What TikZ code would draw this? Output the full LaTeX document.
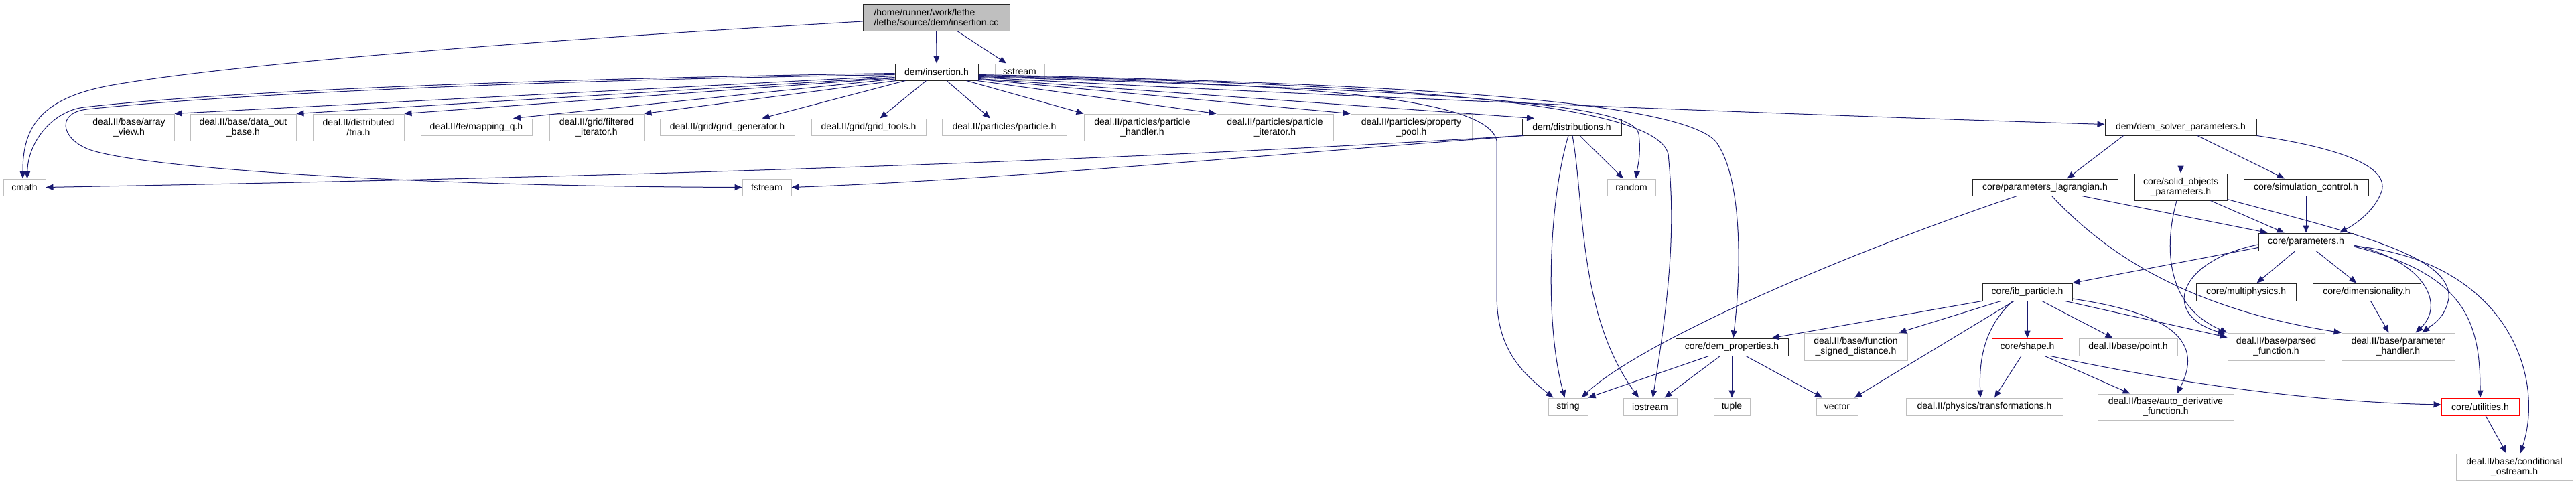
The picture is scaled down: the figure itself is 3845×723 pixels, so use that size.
\documentclass[tikz,border=0pt]{standalone}
\usepackage{fontspec}
\setmainfont{Liberation Sans}
\usetikzlibrary{arrows.meta,calc}
\definecolor{edgec}{RGB}{25,25,112}
\definecolor{greyb}{RGB}{191,191,191}
\definecolor{topfill}{RGB}{191,191,191}
\tikzset{
  nbase/.style={rectangle, inner sep=0pt, fill=white, align=center, font=\fontsize{14}{15}\selectfont, line width=1pt},
  ext/.style={nbase, draw=greyb},
  doc/.style={nbase, draw=black!85},
  trunc/.style={nbase, draw=red},
  root/.style={nbase, draw=black!85, fill=topfill, align=left},
  e/.style={draw=edgec, line width=1pt, -{Triangle[length=11pt,width=9pt]}},
}
\begin{document}
\begin{tikzpicture}[x=1pt,y=-1pt]
\useasboundingbox (0,0) rectangle (3845,723);
% rank 0-1
\node[root, minimum width=219pt, minimum height=40pt] (top) at (1397.5,26) {/home/runner/work/lethe\\/lethe/source/dem/insertion.cc};
\node[doc, minimum width=124pt, minimum height=25pt] (ins) at (1398,107.5) {dem/insertion.h};
\node[ext, minimum width=74pt, minimum height=25pt] (sstream) at (1522,107.5) {sstream};
% rank 2
\node[ext, minimum width=135pt, minimum height=40pt] (arrv) at (192.5,190) {deal.II/base/array\\\_view.h};
\node[ext, minimum width=158pt, minimum height=40pt] (dob) at (363,190) {deal.II/base/data\_out\\\_base.h};
\node[ext, minimum width=136pt, minimum height=40pt] (tria) at (535,190) {deal.II/distributed\\/tria.h};
\node[ext, minimum width=166pt, minimum height=25pt] (mapq) at (711,189.5) {deal.II/fe/mapping\_q.h};
\node[ext, minimum width=141pt, minimum height=40pt] (filt) at (890.5,190) {deal.II/grid/filtered\\\_iterator.h};
\node[ext, minimum width=201pt, minimum height=25pt] (gridgen) at (1085.5,189.5) {deal.II/grid/grid\_generator.h};
\node[ext, minimum width=171pt, minimum height=25pt] (gridtools) at (1296.5,189.5) {deal.II/grid/grid\_tools.h};
\node[ext, minimum width=186pt, minimum height=25pt] (particle) at (1499,189.5) {deal.II/particles/particle.h};
\node[ext, minimum width=174pt, minimum height=40pt] (phandler) at (1705,190) {deal.II/particles/particle\\\_handler.h};
\node[ext, minimum width=174pt, minimum height=40pt] (piter) at (1903,190) {deal.II/particles/particle\\\_iterator.h};
\node[ext, minimum width=181pt, minimum height=40pt] (ppool) at (2106.5,190) {deal.II/particles/property\\\_pool.h};
\node[doc, minimum width=148pt, minimum height=25pt] (distr) at (2346,189.5) {dem/distributions.h};
\node[doc, minimum width=226pt, minimum height=25pt] (dsp) at (3255,189.5) {dem/dem\_solver\_parameters.h};
% rank 3
\node[ext, minimum width=63pt, minimum height=25pt] (cmath) at (36.5,279.5) {cmath};
\node[ext, minimum width=73pt, minimum height=25pt] (fstream) at (1144.5,279.5) {fstream};
\node[ext, minimum width=72pt, minimum height=25pt] (random) at (2435,279.5) {random};
\node[doc, minimum width=217pt, minimum height=25pt] (lagr) at (3052.5,279.5) {core/parameters\_lagrangian.h};
\node[doc, minimum width=138pt, minimum height=40pt] (solid) at (3255,279) {core/solid\_objects\\\_parameters.h};
\node[doc, minimum width=186pt, minimum height=25pt] (simctrl) at (3442,279.5) {core/simulation\_control.h};
% rank 4
\node[doc, minimum width=142pt, minimum height=26pt] (params) at (3442,361) {core/parameters.h};
% rank 5
\node[doc, minimum width=134pt, minimum height=26pt] (ibp) at (3026,436) {core/ib\_particle.h};
\node[doc, minimum width=149pt, minimum height=26pt] (multi) at (3352.5,436) {core/multiphysics.h};
\node[doc, minimum width=161pt, minimum height=26pt] (dimen) at (3532.5,436) {core/dimensionality.h};
% rank 6
\node[doc, minimum width=168pt, minimum height=26pt] (demprop) at (2585,518) {core/dem\_properties.h};
\node[ext, minimum width=154pt, minimum height=41pt] (fsd) at (2770,517.5) {deal.II/base/function\\\_signed\_distance.h};
\node[trunc, minimum width=106pt, minimum height=26pt] (shape) at (3026,518) {core/shape.h};
\node[ext, minimum width=147pt, minimum height=26pt] (point) at (3176.5,518) {deal.II/base/point.h};
\node[ext, minimum width=145pt, minimum height=41pt] (parsed) at (3397.5,517.5) {deal.II/base/parsed\\\_function.h};
\node[ext, minimum width=169pt, minimum height=41pt] (phand) at (3579.5,517.5) {deal.II/base/parameter\\\_handler.h};
% rank 7
\node[ext, minimum width=59pt, minimum height=26pt] (string) at (2340.5,607) {string};
\node[ext, minimum width=80pt, minimum height=26pt] (iostream) at (2463,607) {iostream};
\node[ext, minimum width=54pt, minimum height=26pt] (tuple) at (2585,607) {tuple};
\node[ext, minimum width=62pt, minimum height=26pt] (vector) at (2742,607) {vector};
\node[ext, minimum width=234pt, minimum height=26pt] (transf) at (2962,607) {deal.II/physics/transformations.h};
\node[ext, minimum width=203pt, minimum height=39pt] (autod) at (3232.5,607.5) {deal.II/base/auto\_derivative\\\_function.h};
\node[trunc, minimum width=116pt, minimum height=26pt] (util) at (3702,607) {core/utilities.h};
% rank 8
\node[ext, minimum width=174pt, minimum height=40pt] (cond) at (3753,697) {deal.II/base/conditional\\\_ostream.h};

% ---- edges from insertion.cc
\draw[e] (top) -- (ins);
\draw[e] (top) -- (sstream);
\draw[e] ($(top.west)+(0,6)$) .. controls (800,60) and (350,95) .. (168,127) .. controls (60,146) and (34,190) .. ($(cmath.north)+(-2.5,0)$);

% ---- edges from insertion.h
\draw[e] ($(ins.west)+(0,2)$) .. controls (800,118) and (350,135) .. (126,160) .. controls (80,165) and (42,210) .. ($(cmath.north)+(4,0)$);
\draw[e] ($(ins.west)+(0,4)$) .. controls (800,120) and (350,140) .. (130,163) .. controls (85,168) and (90,205) .. (130,222) .. controls (200,250) and (600,278) .. (fstream.west);
\draw[e] ($(ins.west)+(0,6)$) -- (arrv.north east);
\draw[e] ($(ins.west)+(0,8)$) -- (dob.north east);
\draw[e] ($(ins.west)+(0,9)$) -- (tria.north east);
\draw[e] ($(ins.west)+(0,10.5)$) -- ($(mapq.north)+(55,0)$);
\draw[e] ($(ins.south west)+(2,0)$) -- (filt.north east);
\draw[e] ($(ins.south west)+(16,0)$) -- ($(gridgen.north)+(52,0)$);
\draw[e] ($(ins.south west)+(47,0)$) -- ($(gridtools.north)+(17,0)$);
\draw[e] ($(ins.south)+(15,0)$) -- ($(particle.north)+(-21,0)$);
\draw[e] ($(ins.south east)+(-18,0)$) -- (phandler.north west);
\draw[e] ($(ins.south east)+(-2,0)$) -- (piter.north west);
\draw[e] ($(ins.east)+(0,11)$) -- (ppool.north west);
\draw[e] ($(ins.east)+(0,10)$) -- ($(distr.north)+(-56,0)$);
\draw[e] ($(ins.east)+(0,8)$) .. controls (2000,145) and (2700,172) .. ($(dsp.west)+(0,-4)$);
\draw[e] ($(ins.east)+(0,7)$) .. controls (2100,135) and (2440,150) .. (2446,200) .. controls (2450,230) and (2444,250) .. ($(random.north)+(7,0)$);
\draw[e] ($(ins.east)+(0,6)$) .. controls (1900,125) and (2220,140) .. (2234,210) -- (2234,440) .. controls (2234,520) and (2270,555) .. ($(string.north west)+(8,0)$);
\draw[e] ($(ins.east)+(0,5)$) .. controls (2000,125) and (2470,145) .. (2490,230) .. controls (2500,330) and (2495,420) .. ($(iostream.north)+(4,0)$);
\draw[e] ($(ins.east)+(0,4)$) .. controls (2100,125) and (2500,150) .. (2560,210) .. controls (2600,260) and (2600,400) .. ($(demprop.north)+(2,0)$);

% ---- edges from dem/distributions.h
\draw[e] (distr.south west) .. controls (1500,250) and (700,268) .. (cmath.east);
\draw[e] ($(distr.south west)+(3,0)$) .. controls (1900,230) and (1500,268) .. (fstream.east);
\draw[e] ($(distr.south)+(12,0)$) -- ($(random.north)+(-12,0)$);
\draw[e] ($(distr.south)+(-5,0)$) .. controls (2312,300) and (2305,480) .. ($(string.north)+(-5,0)$);
\draw[e] ($(distr.south)+(1,0)$) .. controls (2365,300) and (2355,470) .. ($(iostream.north)+(-17,0)$);

% ---- edges from dem/dem_solver_parameters.h
\draw[e] ($(dsp.south west)+(28,0)$) -- ($(lagr.north)+(33,0)$);
\draw[e] (dsp.south) -- (solid.north);
\draw[e] ($(dsp.south)+(25,0)$) -- ($(simctrl.north)+(-32,0)$);
\draw[e] (dsp.south east) .. controls (3500,222) and (3565,250) .. (3555,285) .. controls (3545,315) and (3515,335) .. ($(params.north)+(50,0)$);

% ---- edges from core/parameters_lagrangian.h
\draw[e] ($(lagr.south)+(-42,0)$) .. controls (2750,380) and (2450,510) .. ($(string.north east)+(-10,0)$);
\draw[e] ($(lagr.south east)+(-54,0)$) -- ($(params.north west)+(14,0)$);
\draw[e] ($(lagr.south)+(10,0)$) .. controls (3140,375) and (3260,460) .. (phand.north west);

% ---- edges from core/solid_objects_parameters.h
\draw[e] ($(solid.south east)+(-25,0)$) -- ($(params.north west)+(39,0)$);
\draw[e] ($(solid.south)+(-6,0)$) .. controls (3232,360) and (3228,455) .. (parsed.north west);
\draw[e] ($(solid.south east)+(0,-2)$) .. controls (3500,345) and (3660,380) .. (3655,445) .. controls (3650,475) and (3630,485) .. ($(phand.north east)+(-49,0)$);

% ---- edge from core/simulation_control.h
\draw[e] (simctrl) -- (params);

% ---- edges from core/parameters.h
\draw[e] ($(params.south west)+(0,-5)$) -- (ibp.north east);
\draw[e] ($(params.south)+(-16,0)$) -- ($(multi.north)+(16,0)$);
\draw[e] ($(params.south)+(15,0)$) -- ($(dimen.north)+(-15,0)$);
\draw[e] ($(params.west)+(0,4)$) .. controls (3250,390) and (3225,470) .. ($(parsed.north west)+(-3,2)$);
\draw[e] ($(params.east)+(0,5)$) .. controls (3620,390) and (3650,455) .. ($(phand.north)+(26,0)$);
\draw[e] ($(params.east)+(0,7)$) .. controls (3680,410) and (3702,480) .. (util.north);
\draw[e] ($(params.east)+(0,6)$) .. controls (3740,390) and (3800,560) .. ($(cond.north)+(9,0)$);

% ---- edge from core/dimensionality.h
\draw[e] ($(dimen.south)+(6,0)$) -- ($(phand.north)+(-14,0)$);

% ---- edges from core/ib_particle.h
\draw[e] (ibp.south west) -- ($(demprop.north east)+(-25,0)$);
\draw[e] ($(ibp.south west)+(28,0)$) -- ($(fsd.north east)+(-13,0)$);
\draw[e] ($(ibp.south)+(-20,0)$) -- ($(vector.north)+(26,0)$);
\draw[e] ($(ibp.south)+(-22,0)$) .. controls (2960,490) and (2954,540) .. ($(transf.north)+(-6,0)$);
\draw[e] (ibp) -- (shape);
\draw[e] ($(ibp.south)+(22,0)$) -- ($(point.north)+(-23,0)$);
\draw[e] ($(ibp.south east)+(-11,0)$) -- ($(parsed.west)+(0,-14)$);
\draw[e] ($(ibp.east)+(0,10)$) .. controls (3220,465) and (3295,500) .. ($(autod.north)+(17,0)$);

% ---- edges from core/dem_properties.h
\draw[e] ($(demprop.south west)+(50,0)$) -- (string.north east);
\draw[e] ($(demprop.south west)+(67,0)$) -- ($(iostream.north east)+(-19,0)$);
\draw[e] (demprop) -- (tuple);
\draw[e] ($(demprop.south)+(21,0)$) -- ($(vector.north)+(-22,0)$);

% ---- edges from core/shape.h
\draw[e] ($(shape.south)+(-9,0)$) -- ($(transf.north)+(15,0)$);
\draw[e] ($(shape.south)+(26,0)$) -- ($(autod.north)+(-53,0)$);
\draw[e] ($(shape.south east)+(-19,0)$) .. controls (3250,572) and (3450,600) .. ($(util.west)+(0,-3)$);

% ---- edge from core/utilities.h
\draw[e] ($(util.south)+(8,0)$) -- ($(cond.north)+(-12,0)$);
\end{tikzpicture}
\end{document}
